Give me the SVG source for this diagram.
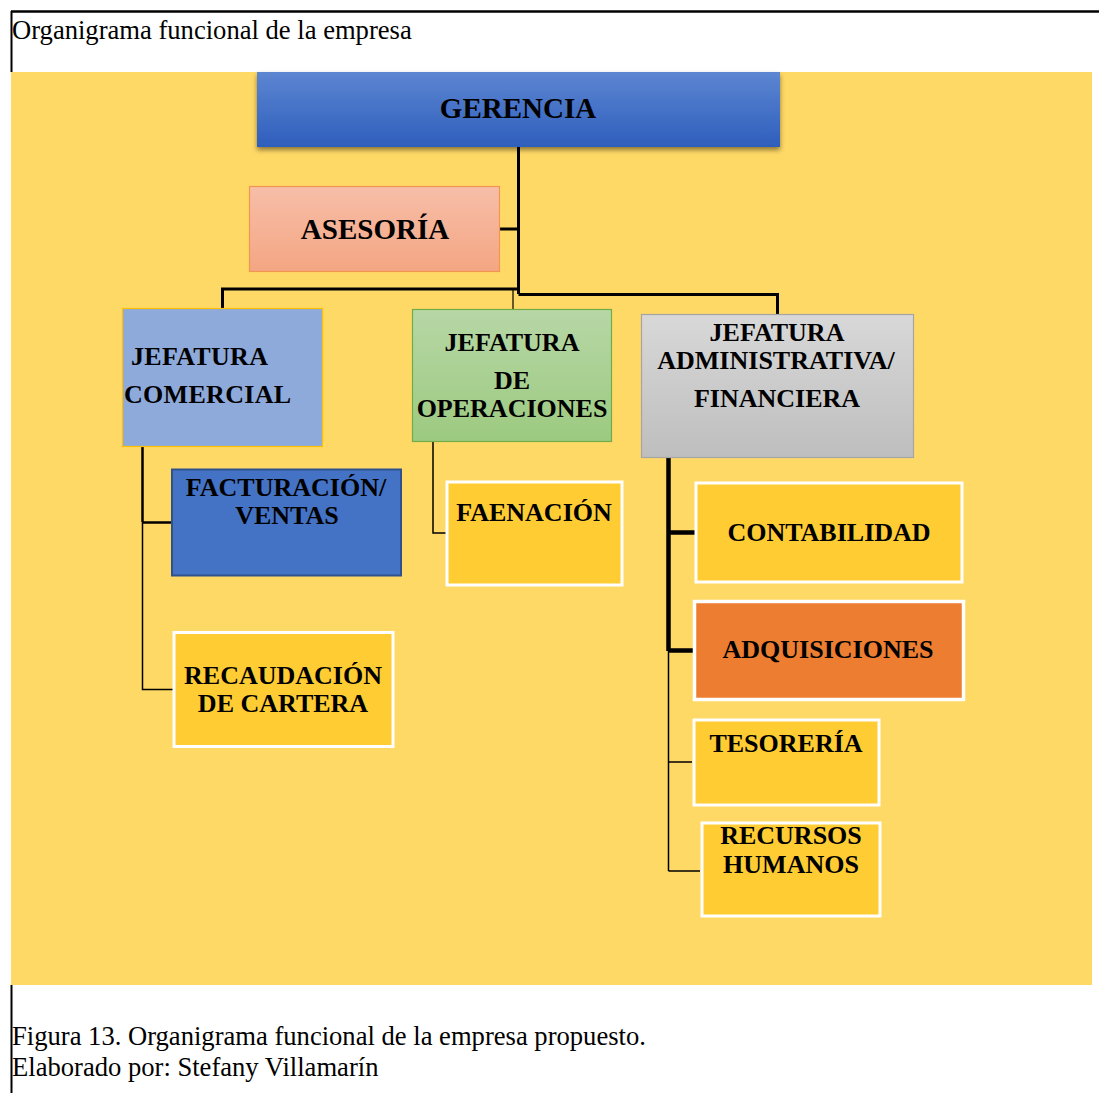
<svg xmlns="http://www.w3.org/2000/svg" width="1099" height="1093" viewBox="0 0 1099 1093">
<defs>
<linearGradient id="gBlue" x1="0" y1="0" x2="0" y2="1"><stop offset="0" stop-color="#5D86D2"/><stop offset="1" stop-color="#2E5EBC"/></linearGradient>
<linearGradient id="gSalmon" x1="0" y1="0" x2="0" y2="1"><stop offset="0" stop-color="#F7BEA8"/><stop offset="1" stop-color="#F4A683"/></linearGradient>
<linearGradient id="gGreen" x1="0" y1="0" x2="0" y2="1"><stop offset="0" stop-color="#B7D7A6"/><stop offset="1" stop-color="#9CCA80"/></linearGradient>
<linearGradient id="gGray" x1="0" y1="0" x2="0" y2="1"><stop offset="0" stop-color="#D8D8D8"/><stop offset="1" stop-color="#BEBEBE"/></linearGradient>
<filter id="shadow" x="-10%" y="-20%" width="120%" height="150%"><feDropShadow dx="0" dy="3" stdDeviation="2.5" flood-color="#000" flood-opacity="0.45"/></filter>
</defs>
<style>
.t{font-family:"Liberation Serif","Times New Roman",serif;font-weight:bold;font-size:26px;fill:#000;}
.big{font-size:29px;}
.mid{text-anchor:middle;}
.cap{font-family:"Liberation Serif","Times New Roman",serif;font-size:26.6px;fill:#000;}
.gold{fill:#FFCC33;stroke:#FFFFFF;stroke-width:3;}
.ln{fill:none;stroke:#000;}
</style>
<rect x="0" y="0" width="1099" height="1093" fill="#FFFFFF"/>
<rect x="11" y="72" width="1081" height="913" fill="#FFD966"/>
<g id="frame" stroke="#000" fill="none">
<line x1="11" y1="11.5" x2="1099" y2="11.5" stroke-width="2.5"/>
<line x1="11.5" y1="11" x2="11.5" y2="72" stroke-width="2"/>
<line x1="11.5" y1="985" x2="11.5" y2="1093" stroke-width="2"/>
</g>
<text class="cap" x="12" y="39">Organigrama funcional de la empresa</text>
<g id="connectors">
<path class="ln" stroke-width="3" d="M518.5 147 V294 M500 229 H518.5 M222.5 308 V289 H518.5 M518.5 294.5 H777.5 V314"/>
<path class="ln" stroke-width="1.2" d="M513 289 V309"/>
<path class="ln" stroke-width="2.5" d="M142.5 446 V522 M142.5 522.5 H172"/>
<path class="ln" stroke-width="1.5" d="M142.5 522 V689.5 H173"/>
<path class="ln" stroke-width="1.5" stroke="#2b2b2b" d="M433 442 V533 H446"/>
<path class="ln" stroke-width="4.5" d="M668.5 458 V651 M668.5 532.5 H695 M668.5 650.5 H693"/>
<path class="ln" stroke-width="1.5" d="M668.5 650 V871 M668.5 762 H692 M668.5 871 H700"/>
</g>
<g id="gerencia">
<rect x="257" y="72" width="523" height="75" fill="url(#gBlue)" filter="url(#shadow)"/>
<text class="t big mid" x="518" y="118">GERENCIA</text>
</g>
<g id="asesoria">
<rect x="249.5" y="186.5" width="250" height="85" fill="url(#gSalmon)" stroke="#F2964F" stroke-width="1.2"/>
<text class="t big mid" x="375" y="239">ASESORÍA</text>
</g>
<g id="jefatura-comercial">
<rect x="122.5" y="308.5" width="200" height="138" fill="#8EAADB" stroke="#FFC000" stroke-width="1.2"/>
<text class="t" x="131" y="365" letter-spacing="0.3">JEFATURA</text>
<text class="t" x="124" y="403" letter-spacing="0.3">COMERCIAL</text>
</g>
<g id="jefatura-operaciones">
<rect x="412.5" y="309.5" width="199" height="132" fill="url(#gGreen)" stroke="#70AD47" stroke-width="1.2"/>
<text class="t mid" x="512" y="351">JEFATURA</text>
<text class="t mid" x="512" y="389">DE</text>
<text class="t mid" x="512" y="417">OPERACIONES</text>
</g>
<g id="jefatura-administrativa">
<rect x="641.5" y="314.5" width="272" height="143" fill="url(#gGray)" stroke="#A5A5A5" stroke-width="1.2"/>
<text class="t mid" x="777" y="341">JEFATURA</text>
<text class="t mid" x="776" y="369">ADMINISTRATIVA/</text>
<text class="t mid" x="777" y="407">FINANCIERA</text>
</g>
<g id="facturacion">
<rect x="172" y="469.5" width="229" height="106" fill="#4472C4" stroke="#2F528F" stroke-width="2"/>
<text class="t mid" x="286" y="496">FACTURACIÓN/</text>
<text class="t mid" x="287" y="524">VENTAS</text>
</g>
<g id="recaudacion">
<rect class="gold" x="174" y="632.5" width="219" height="114"/>
<text class="t mid" x="283" y="684">RECAUDACIÓN</text>
<text class="t mid" x="283" y="712">DE CARTERA</text>
</g>
<g id="faenacion">
<rect class="gold" x="447" y="482" width="175" height="103"/>
<text class="t mid" x="534" y="521">FAENACIÓN</text>
</g>
<g id="contabilidad">
<rect class="gold" x="696" y="483" width="266" height="99"/>
<text class="t mid" x="829" y="541">CONTABILIDAD</text>
</g>
<g id="adquisiciones">
<rect x="694.5" y="601.5" width="269" height="98" fill="#ED7D31" stroke="#FFFFFF" stroke-width="3.5"/>
<text class="t mid" x="828" y="658">ADQUISICIONES</text>
</g>
<g id="tesoreria">
<rect class="gold" x="694" y="720" width="185" height="85"/>
<text class="t mid" x="786" y="752">TESORERÍA</text>
</g>
<g id="recursos-humanos">
<rect class="gold" x="702" y="823" width="178" height="93"/>
<text class="t mid" x="791" y="844">RECURSOS</text>
<text class="t mid" x="791" y="873">HUMANOS</text>
</g>
<text class="cap" x="12" y="1045">Figura 13. Organigrama funcional de la empresa propuesto.</text>
<text class="cap" x="12" y="1076">Elaborado por: Stefany Villamarín</text>
</svg>
